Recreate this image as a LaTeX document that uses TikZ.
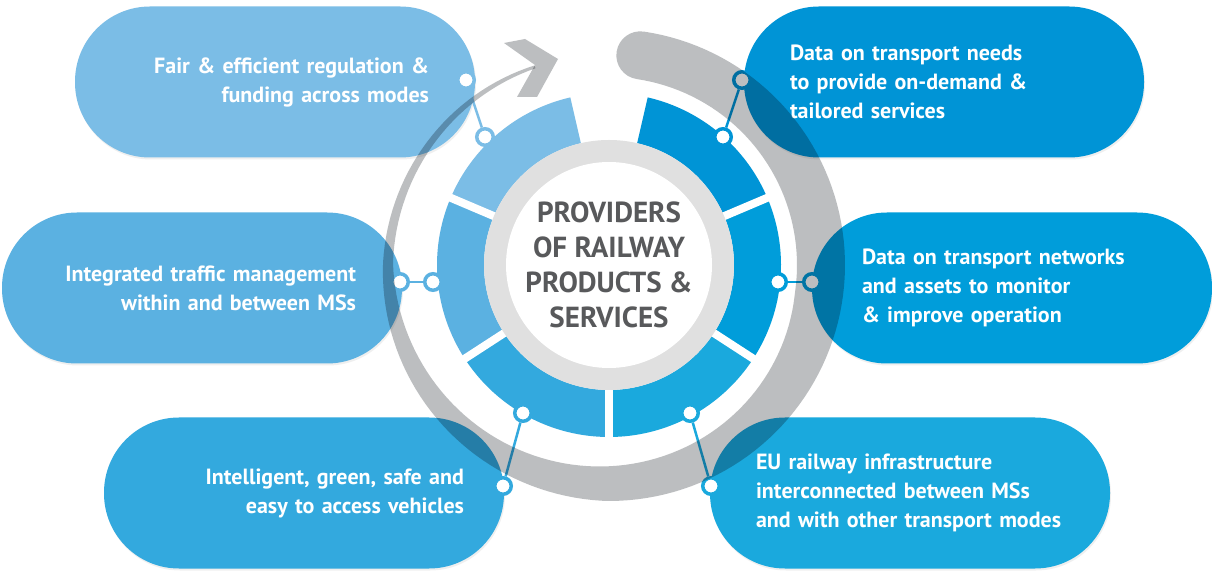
\documentclass[tikz,border=0pt]{standalone}
\usepackage{fontspec}
\setmainfont{PT Sans}
\usetikzlibrary{shadows}
\definecolor{regblue}{HTML}{7BBDE6}
\definecolor{trafblue}{HTML}{5BB1E1}
\definecolor{vehblue}{HTML}{33A9DE}
\definecolor{infrablue}{HTML}{1AA9DD}
\definecolor{netblue}{HTML}{009DDA}
\definecolor{needblue}{HTML}{0094D6}
\definecolor{arcgray}{HTML}{BCBEC0}
\definecolor{hubtext}{HTML}{58595B}
\pgfdeclareradialshading{hubshadow}{\pgfpoint{0bp}{0bp}}{color(0bp)=(gray!24); color(41bp)=(gray!24); color(43bp)=(gray!12); color(47bp)=(white); color(50bp)=(white)}
\tikzstyle{pill}=[rectangle, rounded corners=75pt, minimum height=151pt, inner xsep=46pt, text width=308pt, text=white, font=\fontsize{22}{29}\selectfont\bfseries, drop shadow={shadow xshift=1pt, shadow yshift=-2pt, opacity=0.12}]
\tikzstyle{knob}=[circle, draw, fill=white, line width=3.5pt, minimum size=16.5pt, inner sep=0pt]
\tikzstyle{link}=[line width=2.5pt]
\tikzstyle{hub}=[align=center, text=hubtext, font=\fontsize{29}{35}\selectfont\bfseries]
\newcommand{\pill}{\node[pill]}
\newcommand{\knob}{\node[knob]}
% one blue piece of the ring, from angle #1 to angle #2
\newcommand{\ringpart}[3]{\fill[#3] (#1:172) arc[start angle=#1, end angle=#2, radius=172] -- (#2:125) arc[start angle=#2, end angle=#1, radius=125] -- cycle;}

\begin{document}
\begin{tikzpicture}[x=1pt, y=1pt,
  declare function={rout(\s)=236-0.1111*max(0,\s-172)-0.0773*max(0,\s-262);
                    rin(\s)=188+0.163*max(0,\s-90)-0.25*max(0,\s-262);}]
\useasboundingbox (0,0) rectangle (1212,570);
\fill[white] (0,0) rectangle (1212,570);

% the six themes
\pill[fill=regblue, align=right] (regulation) at (275,488) {Fair \& efficient regulation \&\\funding across modes};
\pill[fill=needblue, align=left] (needs) at (944,488) {Data on transport needs\\to provide on-demand \&\\tailored services};
\pill[fill=trafblue, align=right] (traffic) at (202,282) {Integrated traffic management\\within and between MSs};
\pill[fill=netblue, align=left, inner xsep=50pt, text width=300pt] (networks) at (1012,282) {Data on transport networks\\and assets to monitor\\\& improve operation};
\pill[fill=vehblue, align=right, inner xsep=40pt, text width=320pt] (vehicles) at (304,77) {Intelligent, green, safe and\\easy to access vehicles};
\pill[fill=infrablue, align=left] (infra) at (910,77) {EU railway infrastructure\\interconnected between MSs\\and with other transport modes};

% ring round the hub
\begin{scope}[shift={(609,305)}]
\ringpart{103}{157}{regblue}
\ringpart{157}{213}{trafblue}
\ringpart{213}{270}{vehblue}
\ringpart{270}{327}{infrablue}
\ringpart{327}{383}{netblue}
\ringpart{23}{77}{needblue}
\draw[white, line width=8pt] (157:118) -- (157:180);
\draw[white, line width=8pt] (213:118) -- (213:180);
\draw[white, line width=8pt] (270:118) -- (270:180);
\draw[white, line width=8pt] (327:118) -- (327:180);
\draw[white, line width=8pt] (23:118) -- (23:180);
\shade[shading=hubshadow] (0,0) circle[radius=125];
\fill[white] (0,0) circle[radius=103];
\end{scope}
\node[hub] (hub) at (609,305) {PROVIDERS\\OF RAILWAY\\PRODUCTS \&\\SERVICES};

% connectors
\knob (regulation-in) [draw=regblue] at (485,433) {};
\knob (regulation-out) [draw=regblue] at (466,490) {};
\knob (needs-in) [draw=needblue] at (723,433) {};
\knob (needs-out) [draw=needblue] at (742,490) {};
\knob (traffic-in) [draw=trafblue] at (433,288) {};
\knob (traffic-out) [draw=trafblue] at (400,288) {};
\knob (networks-in) [draw=netblue] at (778,288) {};
\knob (networks-out) [draw=netblue] at (812,288) {};
\knob (vehicles-in) [draw=vehblue] at (523,157) {};
\knob (vehicles-out) [draw=vehblue] at (503,84) {};
\knob (infra-in) [draw=infrablue] at (690,157) {};
\knob (infra-out) [draw=infrablue] at (711,84) {};
\draw[link, regblue] (regulation-in) -- (regulation-out);
\draw[link, needblue] (needs-in) -- (needs-out);
\draw[link, trafblue] (traffic-in) -- (traffic-out);
\draw[link, netblue] (networks-in) -- (networks-out);
\draw[link, vehblue] (vehicles-in) -- (vehicles-out);
\draw[link, infrablue] (infra-in) -- (infra-out);

% grey cycle arrow laid over everything
\begin{scope}[blend mode=multiply]
\begin{scope}[shift={(609,305)}]
\fill[arcgray] plot[domain=0:331, samples=150, variable=\s] ({81.5-\s}:{rout(\s)})
  -- plot[domain=331:0, samples=150, variable=\s] ({81.5-\s}:{rin(\s)})
  arc[start angle=261.5, end angle=81.5, radius=24] -- cycle;
\end{scope}
\fill[arcgray] (504,527) -- (525,531) -- (558,511) -- (537,473) -- (517,473) -- (535,505) -- cycle;
\end{scope}
\end{tikzpicture}
\end{document}
